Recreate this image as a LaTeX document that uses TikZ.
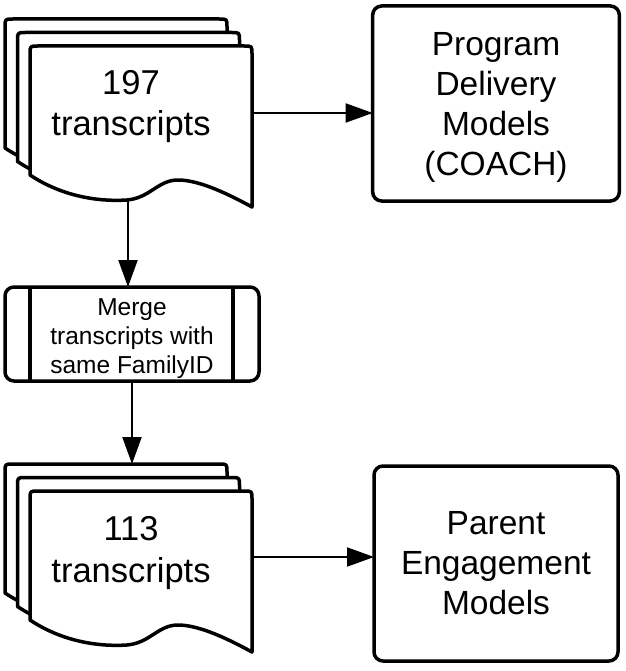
\documentclass[tikz,border=0pt]{standalone}
\usepackage{fontspec}
\setmainfont{Liberation Sans}
\usetikzlibrary{arrows.meta}
\newcommand\docsheet{%
  \filldraw[docline] (30,175) -- (30,54) .. controls (30,46) .. (38,46) -- (244,46)
    .. controls (252,46) .. (252,54) -- (252,207)
    .. controls (230,195) and (200,180) .. (178,180)
    .. controls (158,180) and (150,198) .. (127,200)
    .. controls (95,202) and (60,195) .. (30,175) -- cycle;}
\begin{document}
\begin{tikzpicture}[x=1pt,y=-1pt,
  docline/.style={draw=black,fill=white,line width=3.5pt,line join=round},
  doctext/.style={align=center,font=\fontsize{34.5}{41.5}\selectfont,inner sep=0pt},
  bigbox/.style={draw=black,fill=white,line width=3.5pt,rounded corners=9pt,
    minimum width=244pt,minimum height=195pt,outer sep=0pt,align=center,
    font=\fontsize{33.5}{40}\selectfont},
  procbox/.style={draw=black,fill=white,line width=3.5pt,rounded corners=9pt,
    minimum width=254pt,minimum height=94pt,outer sep=0pt,align=center,
    font=\fontsize{24.5}{29}\selectfont},
  boxline/.style={draw=black,line width=3.5pt},
  arr/.style={draw=black,line width=2pt,-{Triangle[length=27pt,width=19pt]}}]
\useasboundingbox (0,0) rectangle (625,671);
% top document stack
\begin{scope}[shift={(-25,-27)}]\docsheet\end{scope}
\begin{scope}[shift={(-12.5,-13.5)}]\docsheet\end{scope}
\docsheet
\node[doctext] (t197) at (131,106.5) {197\\transcripts};
\coordinate (d1r) at (252,113);
\coordinate (d1b) at (128,200);
% bottom document stack
\begin{scope}[shift={(0,445)}]
  \begin{scope}[shift={(-25,-27)}]\docsheet\end{scope}
  \begin{scope}[shift={(-12.5,-13.5)}]\docsheet\end{scope}
  \docsheet
\end{scope}
\node[doctext] (t113) at (131,553) {113\\transcripts};
\coordinate (d2r) at (252,557);
\coordinate (d2t) at (132,464);
% boxes
\node[bigbox] (pdm) at (496,103.5) {\raisebox{-4pt}[\height][\depth]{\parbox{240pt}{\centering Program\\Delivery\\Models\\(COACH)}}};
\node[bigbox] (pem) at (496,563.5) {Parent\\Engagement\\Models};
\node[procbox] (merge) at (132,334) {\raisebox{-5pt}[\height][\depth]{\parbox{200pt}{\centering Merge\\transcripts with\\same FamilyID}}};
\draw[boxline] ([xshift=25pt]merge.north west) -- ([xshift=25pt]merge.south west);
\draw[boxline] ([xshift=-26pt]merge.north east) -- ([xshift=-26pt]merge.south east);
% connectors
\draw[arr] (d1r) -- (pdm.west |- d1r);
\draw[arr] (d1b) -- (d1b |- merge.north);
\draw[arr] (merge.south) -- (d2t);
\draw[arr] (d2r) -- (pem.west |- d2r);
\end{tikzpicture}
\end{document}
